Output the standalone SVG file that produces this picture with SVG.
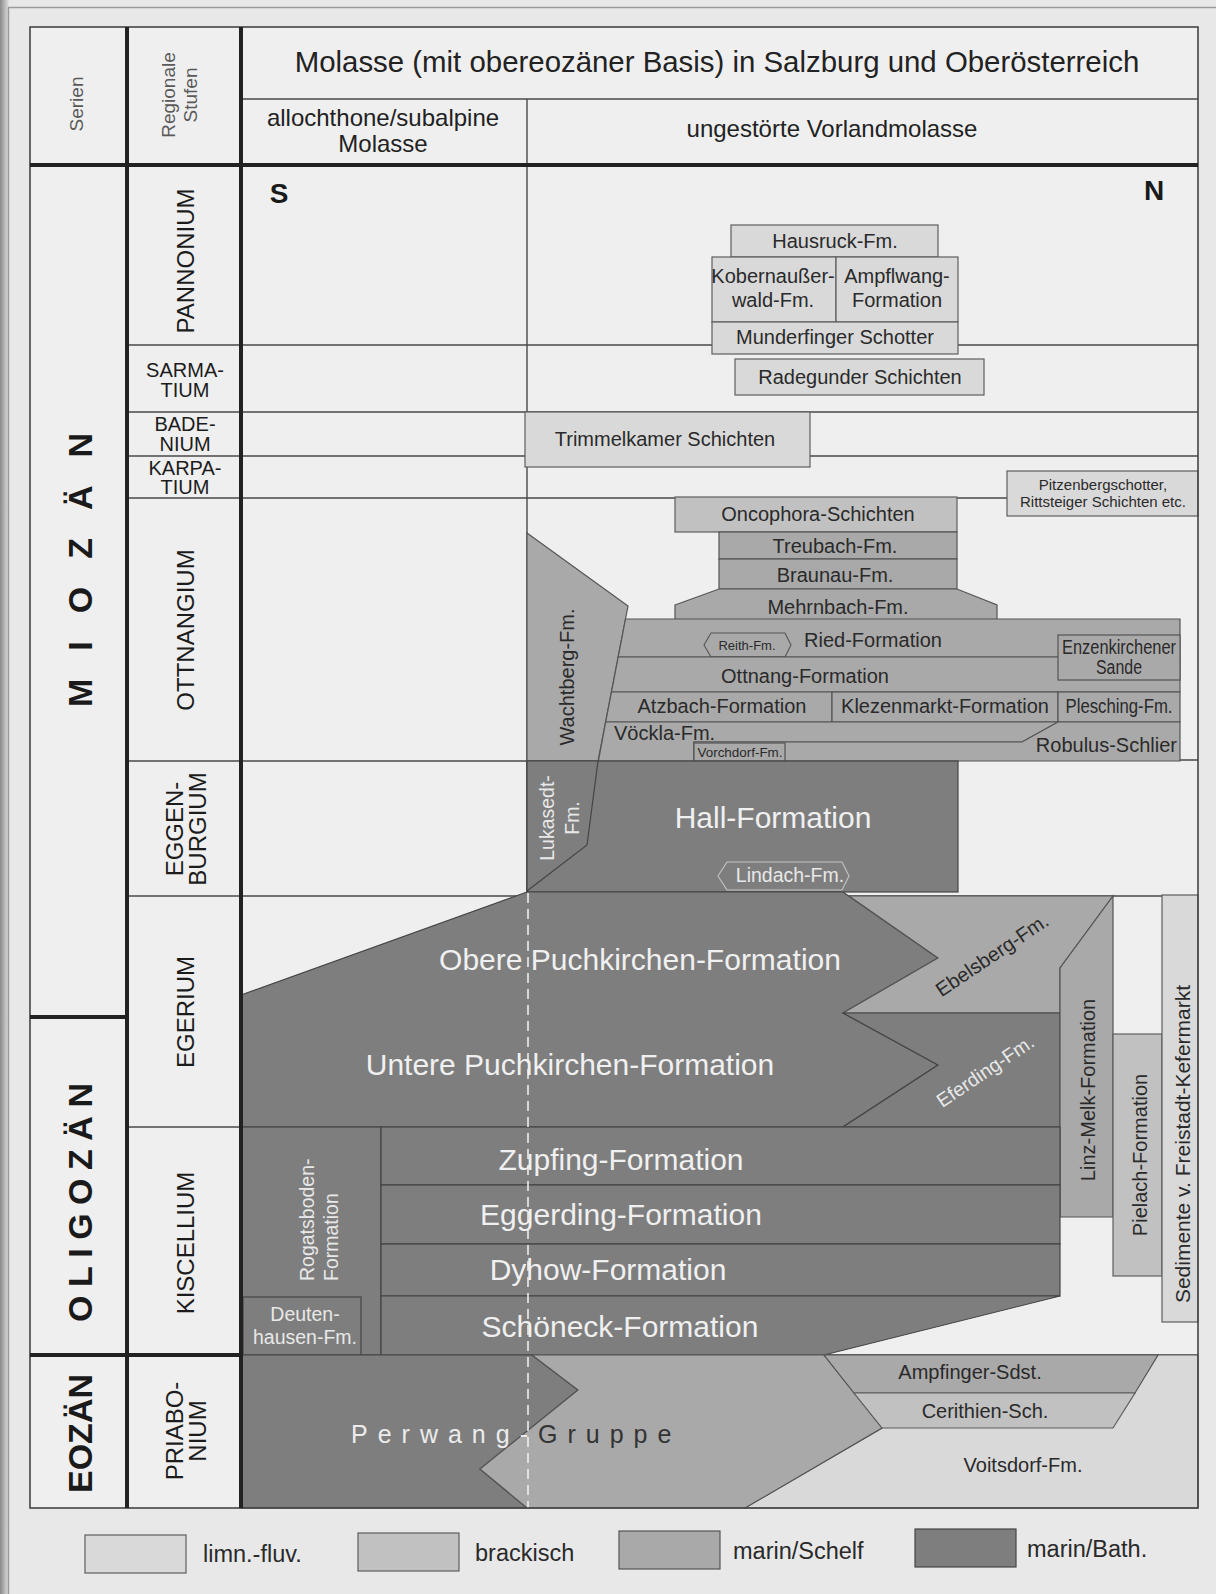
<svg xmlns="http://www.w3.org/2000/svg" width="1216" height="1594" viewBox="0 0 1216 1594">
<defs>
<linearGradient id="edge" x1="0" x2="1" y1="0" y2="0"><stop offset="0" stop-color="#8a8a8a"/><stop offset="1" stop-color="#e2e2e2"/></linearGradient>
</defs>
<style>
text{font-family:"Liberation Sans",Arial,Helvetica,sans-serif}
.ln{stroke:#4a4a4a;stroke-width:1.4;fill:none}
.tk{stroke:#222;stroke-width:4;fill:none}
.lf{fill:#d9d9d9;stroke:#5e5e5e;stroke-width:1.2}
.br{fill:#c1c1c1;stroke:#5e5e5e;stroke-width:1.2}
.sh{fill:#a9a9a9;stroke:#555;stroke-width:1.2}
.ba{fill:#7e7e7e;stroke:#454545;stroke-width:1.2}
.t{font-size:20px;fill:#2a2a2a;text-anchor:middle}
.s15{font-size:15px}
.s13{font-size:13px}
.s21{font-size:21px}
.tw{font-size:19.5px;fill:#e8e8e8;text-anchor:middle}
.big{font-size:30px;fill:#f0f0f0;text-anchor:middle}
.stg{font-size:24px;fill:#1c1c1c;text-anchor:middle}
.st2{font-size:20px;fill:#1c1c1c;text-anchor:middle}
.ser{font-size:34px;font-weight:bold;fill:#1a1a1a}
.hd{fill:#5a5a5a;font-size:19px;text-anchor:middle}
.lg{font-size:23.5px;fill:#2a2a2a}
</style>
<rect width="1216" height="1594" fill="#e8e8e8"/>
<rect x="0" y="0" width="9" height="1594" fill="url(#edge)"/>
<path d="M8 7.5H1216M8.5 7V1594" stroke="#9a9a9a" stroke-width="1.5" fill="none"/>
<rect x="30" y="27" width="1168" height="1481" fill="#efefef"/>

<g id="grid-lines" class="ln">
<path d="M241 99H1198 M527 99V892 M127 345H1198 M127 412H1198 M127 456H1198 M127 498H1198 M127 761H527 M958 760H1198 M127 896H1198 M127 1127H1060 M241 1355H1198"/>
</g>

<g id="header">
<text x="717" y="72" font-size="29.4" fill="#222" text-anchor="middle">Molasse (mit obereozäner Basis) in Salzburg und Oberösterreich</text>
<text x="383" y="126" font-size="24" fill="#222" text-anchor="middle">allochthone/subalpine</text>
<text x="383" y="152" font-size="24" fill="#222" text-anchor="middle">Molasse</text>
<text x="832" y="137" font-size="24" fill="#222" text-anchor="middle">ungestörte Vorlandmolasse</text>
<text class="hd" transform="translate(83,104) rotate(-90)">Serien</text>
<text class="hd" transform="translate(175,95) rotate(-90)">Regionale</text>
<text class="hd" transform="translate(197,95) rotate(-90)">Stufen</text>
<text x="279" y="203" font-size="28" font-weight="bold" fill="#1a1a1a" text-anchor="middle">S</text>
<text x="1154" y="200" font-size="28" font-weight="bold" fill="#1a1a1a" text-anchor="middle">N</text>
</g>

<g id="serien">
<text class="ser" transform="translate(92,707) rotate(-90)" letter-spacing="28">MIOZÄN</text>
<text class="ser" transform="translate(92,1322) rotate(-90)" letter-spacing="8.5">OLIGOZÄN</text>
<text class="ser" transform="translate(92,1493) rotate(-90)">EOZÄN</text>
</g>

<g id="stufen">
<text class="stg" transform="translate(193.5,261) rotate(-90)">PANNONIUM</text>
<text class="st2" x="185" y="377">SARMA-</text><text class="st2" x="185" y="397">TIUM</text>
<text class="st2" x="185" y="431">BADE-</text><text class="st2" x="185" y="451">NIUM</text>
<text class="st2" x="185" y="475">KARPA-</text><text class="st2" x="185" y="494">TIUM</text>
<text class="stg" transform="translate(193.5,630) rotate(-90)">OTTNANGIUM</text>
<text class="stg" transform="translate(182.5,829) rotate(-90)">EGGEN-</text>
<text class="stg" transform="translate(205.5,829) rotate(-90)">BURGIUM</text>
<text class="stg" transform="translate(193.5,1012) rotate(-90)">EGERIUM</text>
<text class="stg" transform="translate(193.5,1243) rotate(-90)">KISCELLIUM</text>
<text class="stg" transform="translate(182.5,1431) rotate(-90)">PRIABO-</text>
<text class="stg" transform="translate(205.5,1431) rotate(-90)">NIUM</text>
</g>

<g id="hausruck-fm"><rect class="lf" x="731" y="225" width="207" height="32"/><text class="t" x="835" y="248">Hausruck-Fm.</text></g>
<g id="kobernausserwald-fm"><rect class="lf" x="712" y="257" width="124" height="65"/><text class="t" x="773" y="283">Kobernaußer-</text><text class="t" x="773" y="307">wald-Fm.</text></g>
<g id="ampflwang-formation"><rect class="lf" x="836" y="257" width="122" height="65"/><text class="t" x="897" y="283">Ampflwang-</text><text class="t" x="897" y="307">Formation</text></g>
<g id="munderfinger-schotter"><rect class="lf" x="712" y="322" width="246" height="32"/><text class="t" x="835" y="344">Munderfinger Schotter</text></g>
<g id="radegunder-schichten"><rect class="lf" x="735" y="359" width="249" height="36"/><text class="t" x="860" y="384">Radegunder Schichten</text></g>
<g id="trimmelkamer-schichten"><rect class="lf" x="525" y="412" width="285" height="55"/><text class="t" x="665" y="446">Trimmelkamer Schichten</text></g>
<g id="pitzenbergschotter"><rect class="lf" x="1007" y="471" width="191" height="45"/><text class="t s15" x="1103" y="490">Pitzenbergschotter,</text><text class="t s15" x="1103" y="507">Rittsteiger Schichten etc.</text></g>
<g id="oncophora-schichten"><rect class="br" x="675" y="497" width="282" height="35"/><text class="t" x="818" y="521">Oncophora-Schichten</text></g>
<g id="treubach-fm"><rect class="sh" x="719" y="532" width="238" height="27"/><text class="t" x="835" y="553">Treubach-Fm.</text></g>
<g id="braunau-fm"><rect class="sh" x="719" y="559" width="238" height="30"/><text class="t" x="835" y="582">Braunau-Fm.</text></g>
<g id="mehrnbach-fm"><polygon class="sh" points="675,605 719,589 957,589 997,605 997,620 675,620"/><text class="t" x="838" y="614">Mehrnbach-Fm.</text></g>
<g id="wachtberg-fm"><polygon class="sh" points="527,533 628,606 598,761 527,761"/><text class="t" transform="translate(574,677) rotate(-90)">Wachtberg-Fm.</text></g>
<g id="ried-formation"><polygon class="sh" points="625.5,619 1180,619 1180,657 618.2,657"/><text class="t" x="873" y="647">Ried-Formation</text></g>
<g id="reith-fm"><polygon points="704,645 711,633 785,633 791,645 785,657 711,657" fill="none" stroke="#555" stroke-width="1.1"/><text class="t s13" x="747" y="650">Reith-Fm.</text></g>
<g id="ottnang-formation"><polygon class="sh" points="618.2,657 1180,657 1180,692 611.5,692"/><text class="t" x="805" y="683">Ottnang-Formation</text></g>
<g id="enzenkirchener-sande"><rect class="sh" x="1058" y="635" width="122" height="45"/><text class="t" x="1119" y="654" textLength="114" lengthAdjust="spacingAndGlyphs">Enzenkirchener</text><text class="t" x="1119" y="674" textLength="46" lengthAdjust="spacingAndGlyphs">Sande</text></g>
<g id="atzbach-formation"><polygon class="sh" points="611.5,692 832,692 832,722 605.7,722"/><text class="t" x="722" y="713">Atzbach-Formation</text></g>
<g id="klezenmarkt-formation"><rect class="sh" x="832" y="692" width="226" height="30"/><text class="t" x="945" y="713">Klezenmarkt-Formation</text></g>
<g id="plesching-fm"><rect class="sh" x="1058" y="692" width="122" height="30"/><text class="t" x="1119" y="713" textLength="107" lengthAdjust="spacingAndGlyphs">Plesching-Fm.</text></g>
<g id="voeckla-fm"><polygon class="sh" points="605.7,722 1058,722 1022,742 694,742 694,761 598.4,761"/><text class="t" x="614" y="740" style="text-anchor:start">Vöckla-Fm.</text></g>
<g id="robulus-schlier"><polygon class="sh" points="694,742 1022,742 1058,722 1180,722 1180,761 694,761"/><text class="t" x="1177" y="752" style="text-anchor:end">Robulus-Schlier</text></g>
<g id="vorchdorf-fm"><rect class="sh" x="694" y="743" width="91" height="18"/><text class="t s13" x="740" y="757" textLength="85" lengthAdjust="spacingAndGlyphs">Vorchdorf-Fm.</text></g>

<g id="hall-formation"><rect class="ba" x="527" y="761" width="431" height="131"/><text class="big" x="773" y="828">Hall-Formation</text></g>
<g id="lindach-fm"><polygon points="718,876 727,862 842,862 849,876 842,890 727,890" fill="none" stroke="#c4c4c4" stroke-width="1.1"/><text class="tw" x="790" y="882">Lindach-Fm.</text></g>
<g id="lukasedt-fm"><polygon class="ba" points="527,761 598,761 587,845 527,891"/><text class="tw" transform="translate(554,818) rotate(-90)">Lukasedt-</text><text class="tw" transform="translate(579,818) rotate(-90)">Fm.</text></g>

<g id="puchkirchen-formation"><polygon class="ba" points="241,995 527,892 843,892 938,958 843,1013 938,1065 843,1127 241,1127"/><text class="big" x="640" y="970">Obere Puchkirchen-Formation</text><text class="big" x="570" y="1075">Untere Puchkirchen-Formation</text></g>
<g id="ebelsberg-fm"><polygon class="sh" points="849,896 1113,896 1060,968 1060,1013 843,1013 938,958"/><text class="t" transform="translate(992,955) rotate(-34)" y="7">Ebelsberg-Fm.</text></g>
<g id="eferding-fm"><polygon class="ba" points="843,1013 1060,1013 1060,1127 843,1127 938,1065"/><text class="tw" transform="translate(985,1071) rotate(-34)" y="7">Eferding-Fm.</text></g>
<g id="linz-melk-formation"><polygon class="sh" points="1060,968 1113,896 1113,1217 1060,1217"/><text class="t" transform="translate(1095,1090) rotate(-90)">Linz-Melk-Formation</text></g>
<g id="pielach-formation"><rect class="br" x="1113" y="1034" width="49" height="242"/><text class="t" transform="translate(1147,1155) rotate(-90)">Pielach-Formation</text></g>
<g id="sedimente-freistadt-kefermarkt"><rect class="lf" x="1162" y="895" width="36" height="427"/><text class="t s21" transform="translate(1190,1144) rotate(-90)">Sedimente v. Freistadt-Kefermarkt</text></g>

<g id="rogatsboden-formation"><rect class="ba" x="241" y="1127" width="140" height="228"/><text class="tw" transform="translate(314,1281) rotate(-90)" style="text-anchor:start">Rogatsboden-</text><text class="tw" transform="translate(338,1281) rotate(-90)" style="text-anchor:start">Formation</text></g>
<g id="deutenhausen-fm"><rect class="ba" x="243" y="1297" width="118" height="58"/><text class="tw" x="305" y="1321">Deuten-</text><text class="tw" x="305" y="1344">hausen-Fm.</text></g>
<g id="zupfing-formation"><rect class="ba" x="381" y="1127" width="679" height="58"/><text class="big" x="621" y="1170">Zupfing-Formation</text></g>
<g id="eggerding-formation"><rect class="ba" x="381" y="1185" width="679" height="59"/><text class="big" x="621" y="1225">Eggerding-Formation</text></g>
<g id="dyhow-formation"><rect class="ba" x="381" y="1244" width="679" height="52"/><text class="big" x="608" y="1280">Dyhow-Formation</text></g>
<g id="schoeneck-formation"><polygon class="ba" points="381,1296 1060,1296 824,1355 381,1355"/><text class="big" x="620" y="1337">Schöneck-Formation</text></g>

<g id="voitsdorf-fm"><polygon class="lf" points="824,1355 1198,1355 1198,1508 745,1508 882,1428"/><text class="t" x="1023" y="1472">Voitsdorf-Fm.</text></g>
<g id="perwang-gruppe"><polygon class="ba" points="241,1355 532,1355 578,1390 480,1469 527,1508 241,1508"/><polygon class="sh" points="532,1355 824,1355 882,1428 745,1508 527,1508 480,1469 578,1390"/><text x="351" y="1443" font-size="25" letter-spacing="10"><tspan fill="#ececec">Perwang-</tspan><tspan fill="#333">Gruppe</tspan></text></g>
<g id="ampfinger-sdst"><polygon class="sh" points="824,1355 1158,1355 1135,1393 854,1393"/><text class="t" x="970" y="1379">Ampfinger-Sdst.</text></g>
<g id="cerithien-sch"><polygon class="br" points="854,1393 1135,1393 1113,1428 882,1428"/><text class="t" x="985" y="1418">Cerithien-Sch.</text></g>

<g id="connectors">
<path d="M528 893V1508" stroke="#f4f4f4" stroke-width="1.5" stroke-dasharray="10 6" fill="none"/>
</g>

<g id="frame">
<rect x="30" y="27" width="1168" height="1481" fill="none" stroke="#444" stroke-width="1.6"/>
<path class="tk" d="M127 27V1508 M241 27V1508 M30 165H1198 M30 1017H127 M30 1355H241"/>
</g>

<g id="legend">
<rect class="lf" x="85" y="1535" width="101" height="38"/><text class="lg" x="203" y="1562">limn.-fluv.</text>
<rect class="br" x="358" y="1533" width="101" height="38"/><text class="lg" x="475" y="1561">brackisch</text>
<rect class="sh" x="619" y="1531" width="101" height="38"/><text class="lg" x="733" y="1559">marin/Schelf</text>
<rect class="ba" x="915" y="1529" width="101" height="38"/><text class="lg" x="1027" y="1557">marin/Bath.</text>
</g>
</svg>
